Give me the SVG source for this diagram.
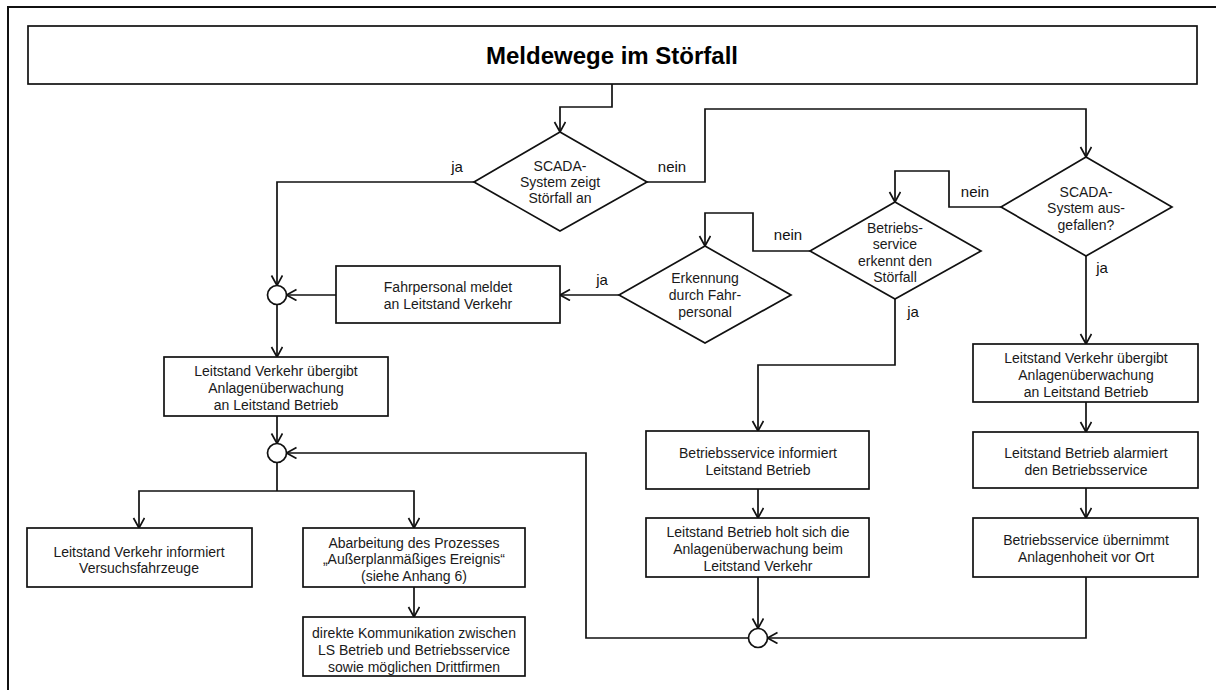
<svg xmlns="http://www.w3.org/2000/svg" width="1216" height="690" viewBox="0 0 1216 690">
<style>
.s{fill:#fff;stroke:#111;stroke-width:1.7}
.c{fill:none;stroke:#111;stroke-width:1.7}
.t{font-family:"Liberation Sans",Arial,sans-serif;font-size:14px;fill:#1a1a1a;text-anchor:middle}
.l{font-family:"Liberation Sans",Arial,sans-serif;font-size:15px;fill:#111;text-anchor:middle}
.h{font-family:"Liberation Sans",Arial,sans-serif;font-size:24px;font-weight:bold;fill:#000;text-anchor:middle}
</style>
<defs>
<marker id="a" markerWidth="14" markerHeight="14" refX="11" refY="6" orient="auto" markerUnits="userSpaceOnUse">
<path d="M1,0.5 L11,6 L1,11.5" fill="none" stroke="#111" stroke-width="1.7"/>
</marker>
</defs>
<rect width="1216" height="690" fill="#fff"/>
<path d="M8,690 V7 H1216" fill="none" stroke="#111" stroke-width="2"/>

<g id="title"><rect class="s" x="28" y="26" width="1169" height="58"/><text class="h" x="612" y="64">Meldewege im Störfall</text></g>

<g id="connectors" class="c">
<path d="M612,84 V107 H560 V132" marker-end="url(#a)"/>
<path d="M474,182 H277 V285.5" marker-end="url(#a)"/>
<path d="M647,182 H705 V109 H1086 V157" marker-end="url(#a)"/>
<path d="M1001,207 H949 V171 H895 V202" marker-end="url(#a)"/>
<path d="M810,251 H753 V213 H705 V246" marker-end="url(#a)"/>
<path d="M619,295 H560" marker-end="url(#a)"/>
<path d="M336,295 H286.5" marker-end="url(#a)"/>
<path d="M277,304.5 V357" marker-end="url(#a)"/>
<path d="M277,416 V443.5" marker-end="url(#a)"/>
<path d="M277,462.5 V491"/>
<path d="M277,491 H139 V528" marker-end="url(#a)"/>
<path d="M277,491 H414 V528" marker-end="url(#a)"/>
<path d="M414,587 V617" marker-end="url(#a)"/>
<path d="M895,299 V365 H758 V431" marker-end="url(#a)"/>
<path d="M758,489 V518" marker-end="url(#a)"/>
<path d="M758,577 V628.5" marker-end="url(#a)"/>
<path d="M748.5,638 H586 V453 H286.5" marker-end="url(#a)"/>
<path d="M1086,256 V344" marker-end="url(#a)"/>
<path d="M1086,402 V432" marker-end="url(#a)"/>
<path d="M1086,488 V518" marker-end="url(#a)"/>
<path d="M1086,577 V638 H767.5" marker-end="url(#a)"/>
</g>

<g id="labels">
<text class="l" x="457" y="172">ja</text>
<text class="l" x="672" y="172">nein</text>
<text class="l" x="975" y="197">nein</text>
<text class="l" x="788" y="240">nein</text>
<text class="l" x="602" y="285">ja</text>
<text class="l" x="913" y="317">ja</text>
<text class="l" x="1102" y="273">ja</text>
</g>

<g id="d1"><path class="s" d="M560,132 L647,182 L560,231 L474,182 Z"/>
<text class="t" x="560" y="171">SCADA-</text><text class="t" x="560" y="187">System zeigt</text><text class="t" x="560" y="203">Störfall an</text></g>

<g id="d3"><path class="s" d="M1086,157 L1172,207 L1086,256 L1001,207 Z"/>
<text class="t" x="1086" y="197">SCADA-</text><text class="t" x="1086" y="213">System aus-</text><text class="t" x="1086" y="230">gefallen?</text></g>

<g id="d2"><path class="s" d="M895,202 L981,251 L895,299 L810,251 Z"/>
<text class="t" x="895" y="233">Betriebs-</text><text class="t" x="895" y="249">service</text><text class="t" x="895" y="266">erkennt den</text><text class="t" x="895" y="282">Störfall</text></g>

<g id="d4"><path class="s" d="M705,246 L791,295 L705,343 L619,295 Z"/>
<text class="t" x="705" y="283">Erkennung</text><text class="t" x="705" y="300">durch Fahr-</text><text class="t" x="705" y="317">personal</text></g>

<g id="fahrpersonal"><rect class="s" x="336" y="266" width="224" height="57"/>
<text class="t" x="448" y="292">Fahrpersonal meldet</text><text class="t" x="448" y="309">an Leitstand Verkehr</text></g>

<g id="j1"><circle class="s" cx="277" cy="295" r="9.5"/></g>

<g id="lv-uebergibt-left"><rect class="s" x="164" y="357" width="224" height="59"/>
<text class="t" x="276" y="376">Leitstand Verkehr übergibt</text><text class="t" x="276" y="393">Anlagenüberwachung</text><text class="t" x="276" y="410">an Leitstand Betrieb</text></g>

<g id="j2"><circle class="s" cx="277" cy="453" r="9.5"/></g>

<g id="lv-informiert"><rect class="s" x="27" y="528" width="225" height="59"/>
<text class="t" x="139" y="557">Leitstand Verkehr informiert</text><text class="t" x="139" y="573">Versuchsfahrzeuge</text></g>

<g id="abarbeitung"><rect class="s" x="303" y="528" width="222" height="59"/>
<text class="t" x="414" y="548">Abarbeitung des Prozesses</text><text class="t" x="414" y="564">„Außerplanmäßiges Ereignis“</text><text class="t" x="414" y="581">(siehe Anhang 6)</text></g>

<g id="kommunikation"><rect class="s" x="303" y="617" width="222" height="59"/>
<text class="t" x="414" y="638">direkte Kommunikation zwischen</text><text class="t" x="414" y="655">LS Betrieb und Betriebsservice</text><text class="t" x="414" y="672">sowie möglichen Drittfirmen</text></g>

<g id="bs-informiert"><rect class="s" x="646" y="431" width="223" height="58"/>
<text class="t" x="758" y="458">Betriebsservice informiert</text><text class="t" x="758" y="475">Leitstand Betrieb</text></g>

<g id="lb-holt"><rect class="s" x="646" y="518" width="223" height="59"/>
<text class="t" x="758" y="537">Leitstand Betrieb holt sich die</text><text class="t" x="758" y="554">Anlagenüberwachung beim</text><text class="t" x="758" y="571">Leitstand Verkehr</text></g>

<g id="j3"><circle class="s" cx="758" cy="638" r="9.5"/></g>

<g id="lv-uebergibt-right"><rect class="s" x="973" y="344" width="225" height="58"/>
<text class="t" x="1086" y="363">Leitstand Verkehr übergibt</text><text class="t" x="1086" y="380">Anlagenüberwachung</text><text class="t" x="1086" y="397">an Leitstand Betrieb</text></g>

<g id="lb-alarmiert"><rect class="s" x="973" y="432" width="225" height="56"/>
<text class="t" x="1086" y="458">Leitstand Betrieb alarmiert</text><text class="t" x="1086" y="475">den Betriebsservice</text></g>

<g id="bs-uebernimmt"><rect class="s" x="973" y="518" width="225" height="59"/>
<text class="t" x="1086" y="545">Betriebsservice übernimmt</text><text class="t" x="1086" y="562">Anlagenhoheit vor Ort</text></g>
</svg>
